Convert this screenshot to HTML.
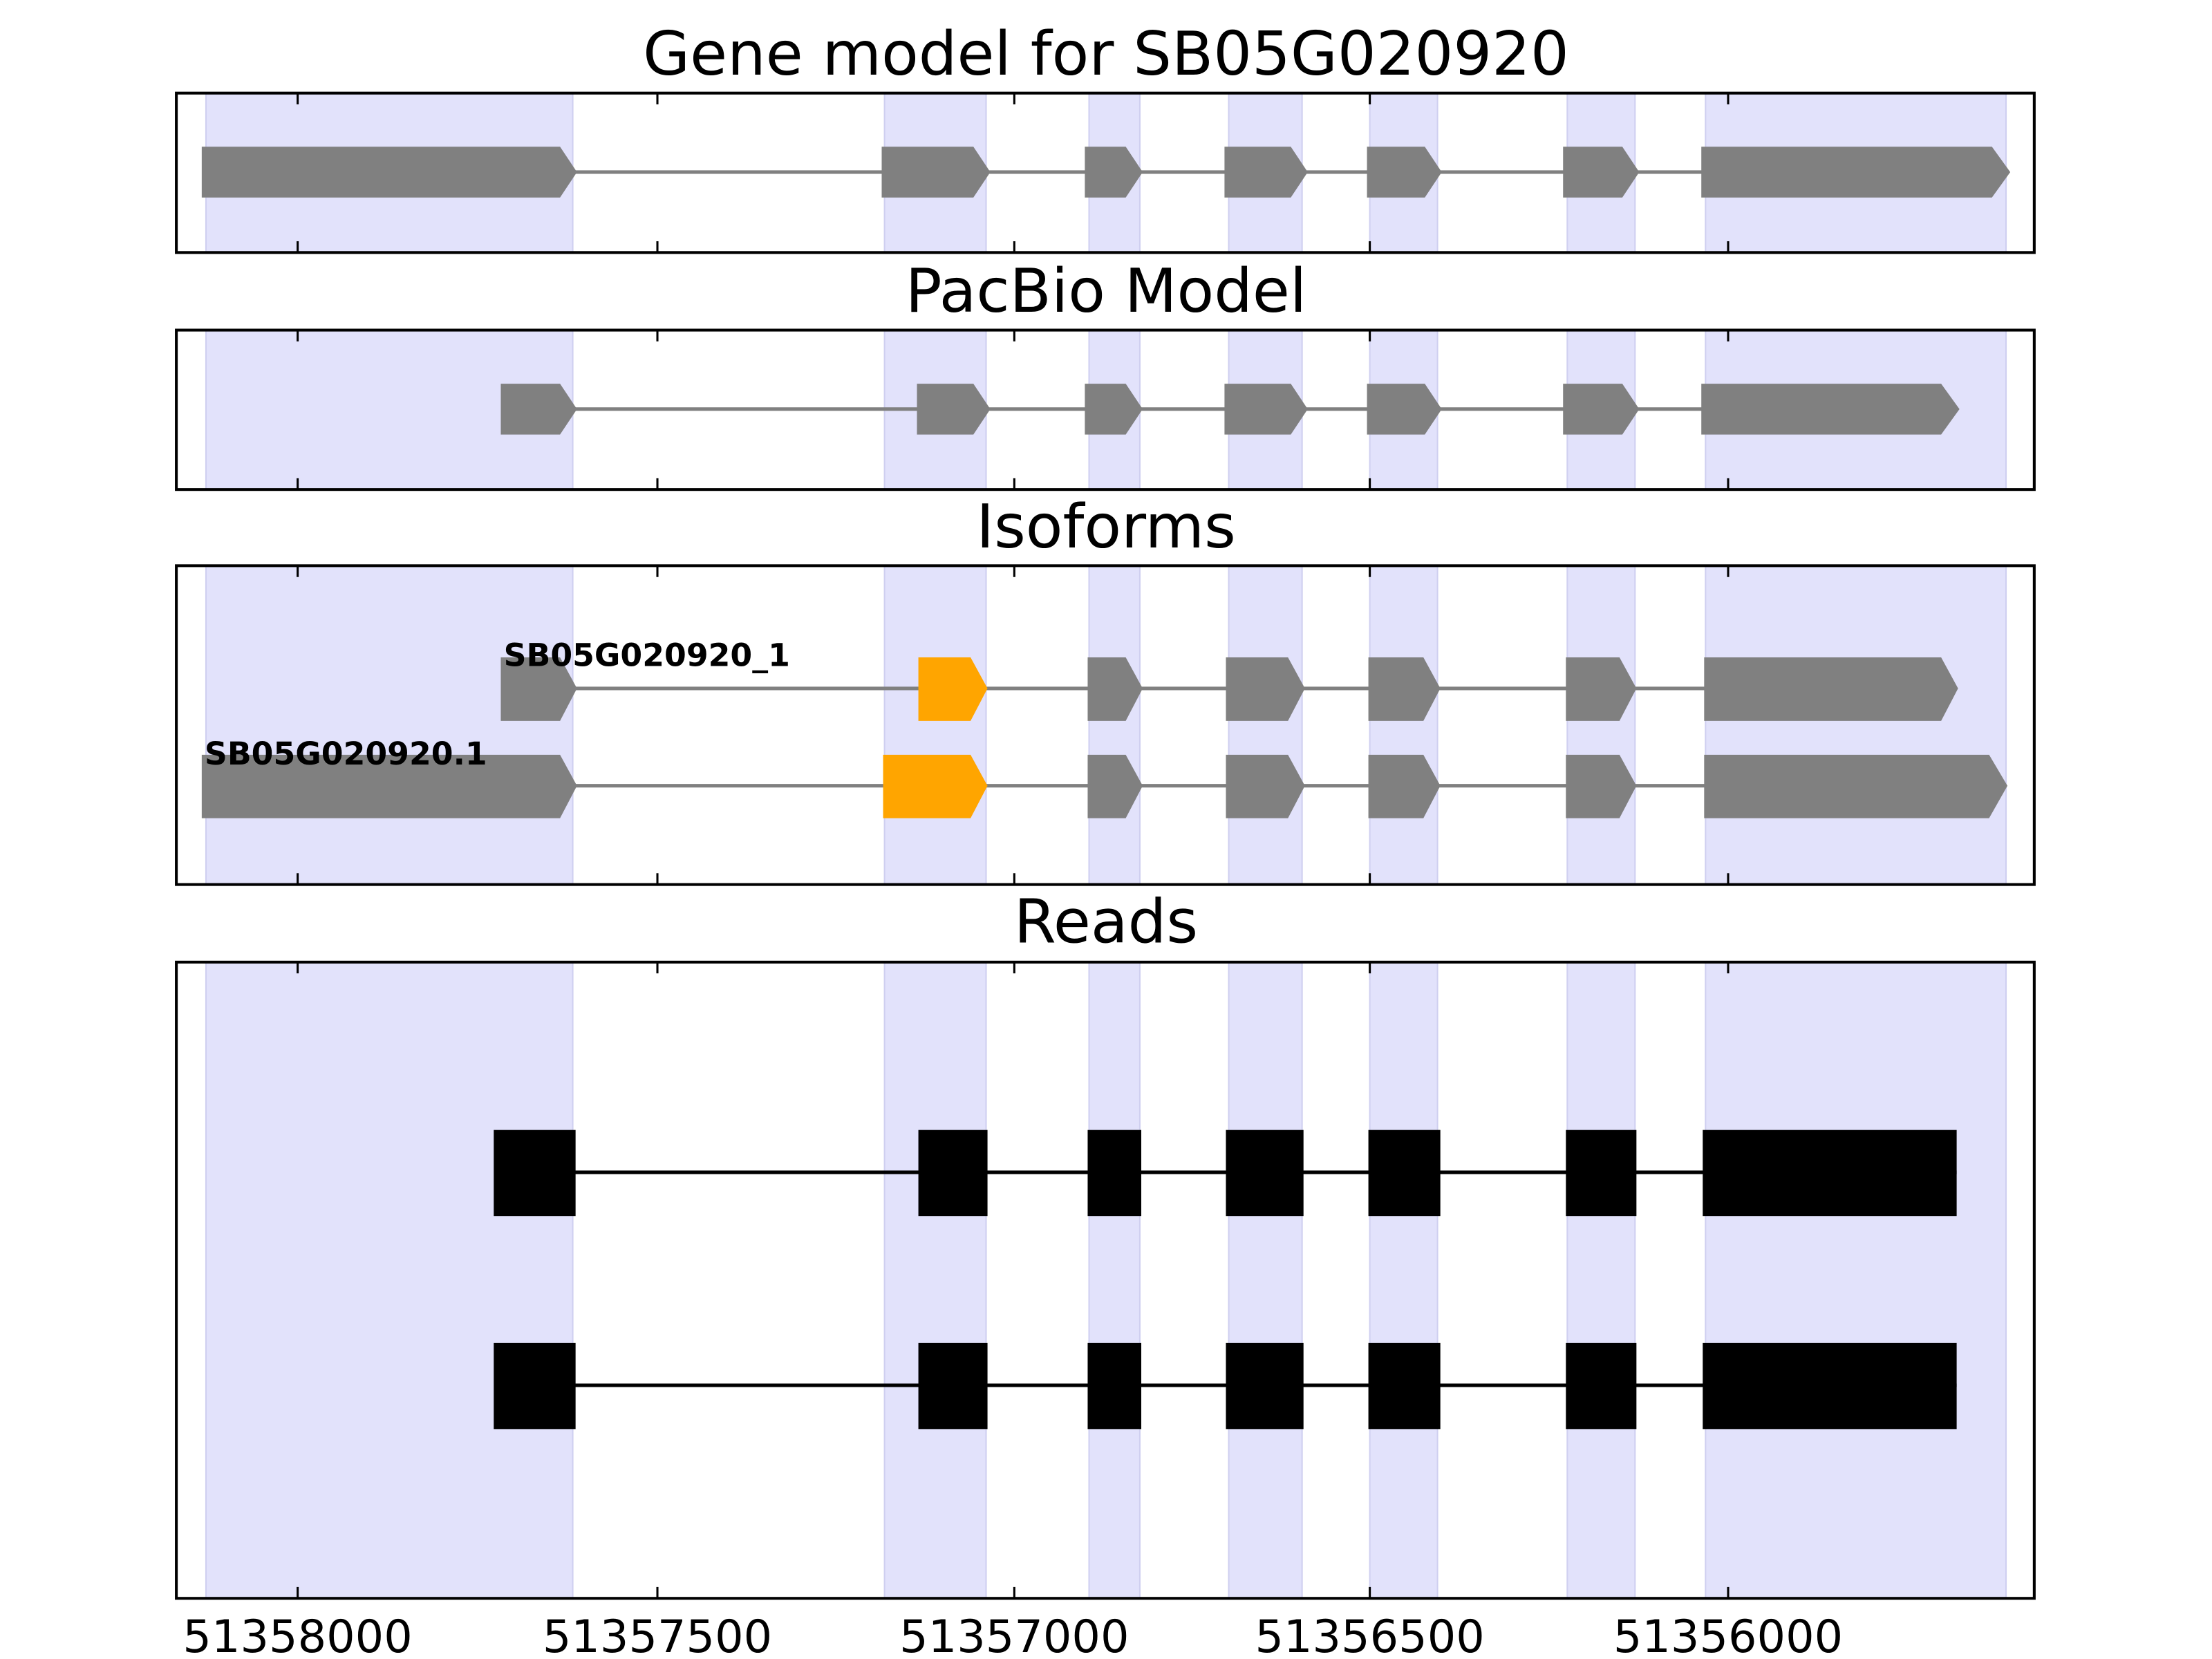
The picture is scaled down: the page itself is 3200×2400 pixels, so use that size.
<!DOCTYPE html>
<html><head><meta charset="utf-8"><style>html,body{margin:0;padding:0;background:#fff}svg{display:block}</style></head>
<body>
<svg width="3200" height="2400" viewBox="0 0 1568 1176" xmlns="http://www.w3.org/2000/svg" font-family="'DejaVu Sans','Liberation Sans',sans-serif">
<g fill="#e2e2fb" stroke="#cfcff0" stroke-width="1">
<g transform="translate(0,66)">
<rect x="146" y="0" width="260" height="113"/><rect x="627" y="0" width="72" height="113"/><rect x="772" y="0" width="36" height="113"/><rect x="871" y="0" width="52" height="113"/><rect x="971" y="0" width="48" height="113"/><rect x="1111" y="0" width="48" height="113"/><rect x="1209" y="0" width="213" height="113"/></g>
<g transform="translate(0,234)">
<rect x="146" y="0" width="260" height="113"/><rect x="627" y="0" width="72" height="113"/><rect x="772" y="0" width="36" height="113"/><rect x="871" y="0" width="52" height="113"/><rect x="971" y="0" width="48" height="113"/><rect x="1111" y="0" width="48" height="113"/><rect x="1209" y="0" width="213" height="113"/></g>
<g transform="translate(0,401)">
<rect x="146" y="0" width="260" height="226"/><rect x="627" y="0" width="72" height="226"/><rect x="772" y="0" width="36" height="226"/><rect x="871" y="0" width="52" height="226"/><rect x="971" y="0" width="48" height="226"/><rect x="1111" y="0" width="48" height="226"/><rect x="1209" y="0" width="213" height="226"/></g>
<g transform="translate(0,682)">
<rect x="146" y="0" width="260" height="451"/><rect x="627" y="0" width="72" height="451"/><rect x="772" y="0" width="36" height="451"/><rect x="871" y="0" width="52" height="451"/><rect x="971" y="0" width="48" height="451"/><rect x="1111" y="0" width="48" height="451"/><rect x="1209" y="0" width="213" height="451"/></g>
</g>

<line x1="400" y1="122" x2="1210" y2="122" stroke="#808080" stroke-width="2.5"/>
<g fill="#808080">
<polygon points="143,104 397,104 409,122 397,140 143,140"/>
<polygon points="625,104 690,104 702,122 690,140 625,140"/>
<polygon points="769,104 798,104 810,122 798,140 769,140"/>
<polygon points="868,104 915,104 927,122 915,140 868,140"/>
<polygon points="969,104 1010,104 1022,122 1010,140 969,140"/>
<polygon points="1108,104 1150,104 1162,122 1150,140 1108,140"/>
<polygon points="1206,104 1412,104 1425,122 1412,140 1206,140"/>
</g>
<line x1="400" y1="290" x2="1210" y2="290" stroke="#808080" stroke-width="2.5"/>
<g fill="#808080">
<polygon points="355,272 397,272 409,290 397,308 355,308"/>
<polygon points="650,272 690,272 702,290 690,308 650,308"/>
<polygon points="769,272 798,272 810,290 798,308 769,308"/>
<polygon points="868,272 915,272 927,290 915,308 868,308"/>
<polygon points="969,272 1010,272 1022,290 1010,308 969,308"/>
<polygon points="1108,272 1150,272 1162,290 1150,308 1108,308"/>
<polygon points="1206,272 1376,272 1389,290 1376,308 1206,308"/>
</g>
<line x1="400" y1="488" x2="1210" y2="488" stroke="#808080" stroke-width="2.5"/>
<line x1="400" y1="557" x2="1210" y2="557" stroke="#808080" stroke-width="2.5"/>
<g fill="#808080">
<polygon points="355,466 397,466 409,488 397,511 355,511"/>
<polygon points="771,466 798,466 810,488 798,511 771,511"/>
<polygon points="869,466 913,466 925,488 913,511 869,511"/>
<polygon points="970,466 1009,466 1021,488 1009,511 970,511"/>
<polygon points="1110,466 1148,466 1160,488 1148,511 1110,511"/>
<polygon points="1208,466 1376,466 1388,488 1376,511 1208,511"/>
<polygon points="143,535 397,535 409,557 397,580 143,580"/>
<polygon points="771,535 798,535 810,557 798,580 771,580"/>
<polygon points="869,535 913,535 925,557 913,580 869,580"/>
<polygon points="970,535 1009,535 1021,557 1009,580 970,580"/>
<polygon points="1110,535 1148,535 1160,557 1148,580 1110,580"/>
<polygon points="1208,535 1410,535 1423,557 1410,580 1208,580"/>
</g>
<g fill="#ffa500">
<polygon points="651,466 688,466 700,488 688,511 651,511"/>
<polygon points="626,535 688,535 700,557 688,580 626,580"/>
</g>
<text x="357" y="472" font-size="22.4" font-weight="bold">SB05G020920_1</text>
<text x="145" y="542" font-size="22.4" font-weight="bold">SB05G020920.1</text>
<line x1="380" y1="831" x2="1387" y2="831" stroke="#000" stroke-width="2.5"/>
<line x1="380" y1="982" x2="1387" y2="982" stroke="#000" stroke-width="2.5"/>
<g fill="#000">
<rect x="350" y="801" width="58" height="61"/><rect x="651" y="801" width="49" height="61"/><rect x="771" y="801" width="38" height="61"/><rect x="869" y="801" width="55" height="61"/><rect x="970" y="801" width="51" height="61"/><rect x="1110" y="801" width="50" height="61"/><rect x="1207" y="801" width="180" height="61"/>
<rect x="350" y="952" width="58" height="61"/><rect x="651" y="952" width="49" height="61"/><rect x="771" y="952" width="38" height="61"/><rect x="869" y="952" width="55" height="61"/><rect x="970" y="952" width="51" height="61"/><rect x="1110" y="952" width="50" height="61"/><rect x="1207" y="952" width="180" height="61"/>
</g>
<g fill="none" stroke="#000" stroke-width="2">
<rect x="125" y="66" width="1317" height="113"/>
<rect x="125" y="234" width="1317" height="113"/>
<rect x="125" y="401" width="1317" height="226"/>
<rect x="125" y="682" width="1317" height="451"/>
</g>
<g stroke="#000" stroke-width="1.5">
<path d="M211,179v-8M466,179v-8M719,179v-8M971,179v-8M1225,179v-8 M211,66v8M466,66v8M719,66v8M971,66v8M1225,66v8
M211,347v-8M466,347v-8M719,347v-8M971,347v-8M1225,347v-8 M211,234v8M466,234v8M719,234v8M971,234v8M1225,234v8
M211,627v-8M466,627v-8M719,627v-8M971,627v-8M1225,627v-8 M211,401v8M466,401v8M719,401v8M971,401v8M1225,401v8
M211,1133v-8M466,1133v-8M719,1133v-8M971,1133v-8M1225,1133v-8 M211,682v8M466,682v8M719,682v8M971,682v8M1225,682v8"/>
</g>
<g font-size="32" text-anchor="middle">
<text x="211" y="1171">51358000</text>
<text x="466" y="1171">51357500</text>
<text x="719" y="1171">51357000</text>
<text x="971" y="1171">51356500</text>
<text x="1225" y="1171">51356000</text>
</g>
<g font-size="43" text-anchor="middle">
<text x="784" y="53">Gene model for SB05G020920</text>
<text x="784" y="221">PacBio Model</text>
<text x="784" y="388">Isoforms</text>
<text x="784" y="668">Reads</text>
</g>
</svg>
</body></html>
